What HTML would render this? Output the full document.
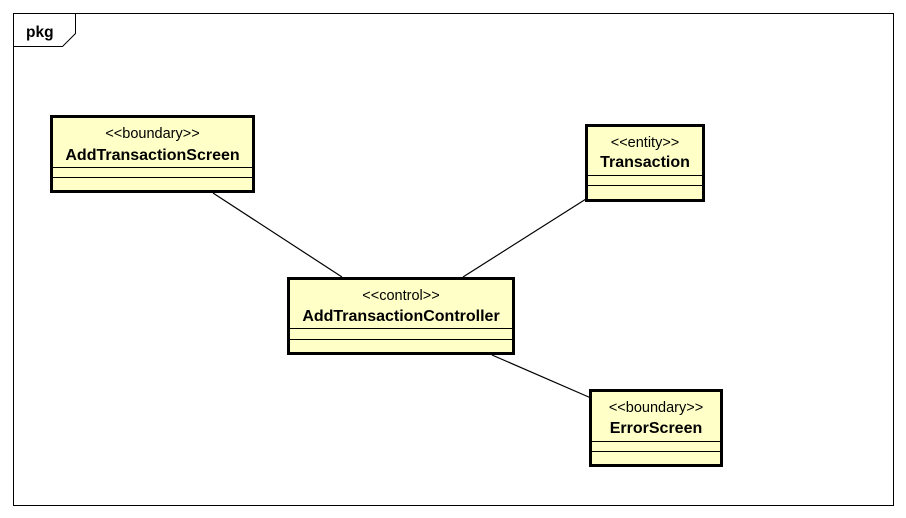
<!DOCTYPE html>
<html><head><style>body{margin:0;background:#fff}svg{display:block}</style></head><body>
<svg width="906" height="518" xmlns="http://www.w3.org/2000/svg" font-family="Liberation Sans, Arial, sans-serif">
<rect width="906" height="518" fill="#fff"/>
<rect x="13.5" y="13.5" width="880" height="492" fill="none" stroke="#000" stroke-width="1"/>
<polyline points="13.5,46.5 62.5,46.5 75.5,33.5 75.5,13.5" fill="none" stroke="#000"/>
<text x="26" y="37" font-size="15.5" font-weight="bold">pkg</text>
<g stroke="#000" stroke-width="1.2">
<line x1="213" y1="193" x2="342" y2="277"/>
<line x1="586" y1="199" x2="463" y2="277"/>
<line x1="492" y1="355" x2="591" y2="398"/>
</g>
<g stroke="#000" fill="#ffffc8">
<rect x="51.5" y="116.5" width="202" height="75" stroke-width="3"/>
<rect x="288.5" y="278.5" width="225" height="75" stroke-width="3"/>
<rect x="586.5" y="125.5" width="117" height="75" stroke-width="3"/>
<rect x="590.5" y="390.5" width="131" height="75" stroke-width="3"/>
</g>
<g stroke="#000" stroke-width="1">
<line x1="52" y1="167.5" x2="253" y2="167.5"/><line x1="52" y1="177.5" x2="253" y2="177.5"/>
<line x1="289" y1="328.5" x2="513" y2="328.5"/><line x1="289" y1="339.5" x2="513" y2="339.5"/>
<line x1="587" y1="175.5" x2="703" y2="175.5"/><line x1="587" y1="185.5" x2="703" y2="185.5"/>
<line x1="591" y1="441.5" x2="721" y2="441.5"/><line x1="591" y1="451.5" x2="721" y2="451.5"/>
</g>
<g text-anchor="middle" font-size="14.5">
<text x="152.5" y="138">&lt;&lt;boundary&gt;&gt;</text>
<text x="152.5" y="160" font-weight="bold" font-size="16">AddTransactionScreen</text>
<text x="401" y="300">&lt;&lt;control&gt;&gt;</text>
<text x="401" y="321" font-weight="bold" font-size="16">AddTransactionController</text>
<text x="645" y="147">&lt;&lt;entity&gt;&gt;</text>
<text x="645" y="167" font-weight="bold" font-size="16">Transaction</text>
<text x="656" y="412">&lt;&lt;boundary&gt;&gt;</text>
<text x="656" y="433" font-weight="bold" font-size="16">ErrorScreen</text>
</g>
</svg>
</body></html>
